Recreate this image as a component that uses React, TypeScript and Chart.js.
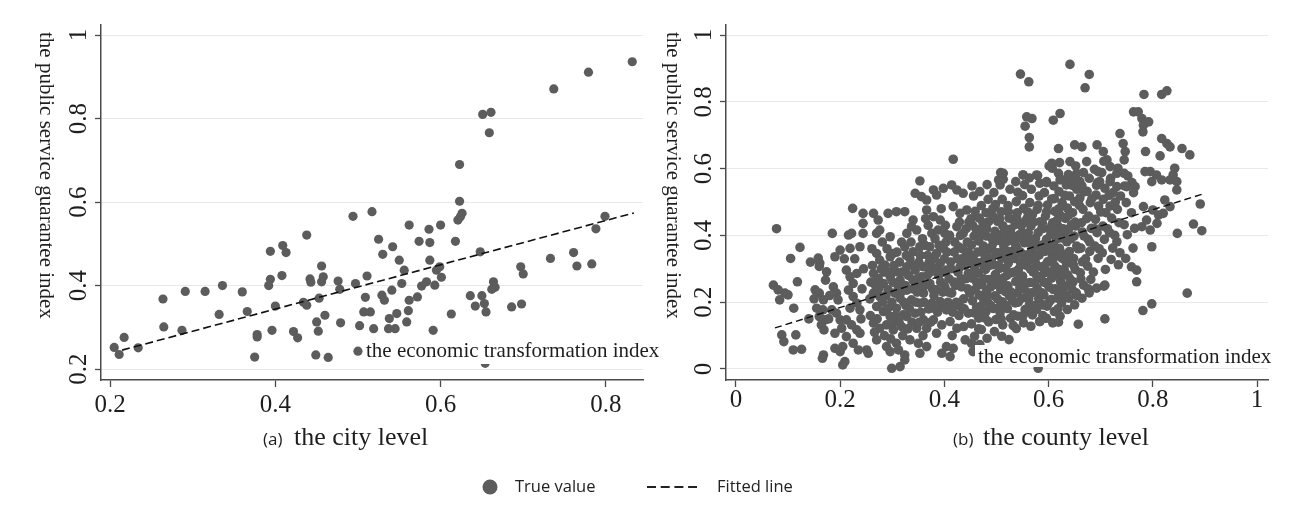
import React, { useEffect, useRef } from 'react';
import { Chart, registerables } from 'chart.js';

Chart.register(...registerables);

// ---------- data ----------
const cityPoints: [number, number][] = [
  [0.205, 0.252], [0.211, 0.235], [0.217, 0.276], [0.234, 0.251], [0.264, 0.368], [0.265, 0.301],
  [0.287, 0.293], [0.291, 0.386], [0.315, 0.386], [0.332, 0.331], [0.336, 0.4], [0.36, 0.385],
  [0.366, 0.338], [0.375, 0.229], [0.378, 0.283], [0.378, 0.277], [0.392, 0.4], [0.394, 0.415],
  [0.394, 0.482], [0.396, 0.293], [0.4, 0.351], [0.409, 0.496], [0.413, 0.479], [0.408, 0.424],
  [0.422, 0.29], [0.427, 0.275], [0.434, 0.36], [0.438, 0.521], [0.442, 0.416], [0.443, 0.408],
  [0.438, 0.353], [0.449, 0.234], [0.45, 0.313], [0.452, 0.291], [0.453, 0.37], [0.456, 0.447],
  [0.458, 0.421], [0.456, 0.409], [0.46, 0.329], [0.464, 0.228], [0.476, 0.411], [0.478, 0.391],
  [0.479, 0.311], [0.494, 0.566], [0.497, 0.405], [0.5, 0.243], [0.502, 0.304], [0.507, 0.337],
  [0.509, 0.372], [0.511, 0.423], [0.515, 0.337], [0.517, 0.577], [0.519, 0.297], [0.525, 0.511],
  [0.529, 0.377], [0.53, 0.475], [0.532, 0.365], [0.537, 0.297], [0.538, 0.321], [0.541, 0.389],
  [0.542, 0.493], [0.545, 0.297], [0.547, 0.333], [0.55, 0.461], [0.553, 0.405], [0.556, 0.437],
  [0.559, 0.313], [0.561, 0.34], [0.562, 0.545], [0.562, 0.365], [0.572, 0.373], [0.574, 0.506],
  [0.577, 0.399], [0.583, 0.409], [0.586, 0.535], [0.587, 0.503], [0.587, 0.461], [0.591, 0.293],
  [0.593, 0.401], [0.595, 0.437], [0.599, 0.445], [0.6, 0.545], [0.601, 0.42], [0.613, 0.332],
  [0.618, 0.506], [0.621, 0.557], [0.623, 0.69], [0.623, 0.602], [0.624, 0.565], [0.626, 0.573],
  [0.636, 0.376], [0.642, 0.351], [0.648, 0.481], [0.65, 0.376], [0.651, 0.81], [0.653, 0.357],
  [0.654, 0.214], [0.655, 0.337], [0.659, 0.766], [0.661, 0.815], [0.662, 0.391], [0.664, 0.409],
  [0.666, 0.396], [0.686, 0.349], [0.697, 0.445], [0.698, 0.356], [0.7, 0.428], [0.733, 0.465],
  [0.737, 0.871], [0.761, 0.479], [0.765, 0.447], [0.779, 0.911], [0.783, 0.452], [0.788, 0.536],
  [0.799, 0.566], [0.832, 0.936],
];
const cityFit: [number, number][] = [[0.2145, 0.2455], [0.834, 0.574]];

const countyLeft: [number, number][] = [
  [0.078, 0.42], [0.072, 0.251], [0.081, 0.237], [0.094, 0.227], [0.1, 0.222], [0.084, 0.207],
  [0.088, 0.102], [0.092, 0.082], [0.105, 0.331], [0.123, 0.364], [0.118, 0.261], [0.111, 0.182],
  [0.115, 0.102], [0.11, 0.057], [0.126, 0.059], [0.143, 0.32], [0.158, 0.332], [0.161, 0.317],
  [0.16, 0.307], [0.152, 0.237], [0.16, 0.227], [0.168, 0.207], [0.167, 0.177], [0.155, 0.182],
  [0.16, 0.157], [0.171, 0.147], [0.164, 0.132], [0.169, 0.117], [0.168, 0.042], [0.166, 0.032],
  [0.174, 0.291], [0.172, 0.266], [0.185, 0.406], [0.19, 0.336], [0.2, 0.356], [0.187, 0.246],
  [0.193, 0.227], [0.196, 0.207], [0.193, 0.167], [0.184, 0.177], [0.2, 0.147], [0.203, 0.122],
  [0.19, 0.107], [0.19, 0.062], [0.2, 0.052], [0.205, 0.067], [0.209, 0.022], [0.205, 0.012],
  [0.216, 0.401], [0.222, 0.406], [0.224, 0.481], [0.219, 0.361], [0.238, 0.366], [0.244, 0.406],
  [0.244, 0.436], [0.244, 0.466], [0.212, 0.296], [0.219, 0.276], [0.232, 0.286], [0.225, 0.256],
  [0.216, 0.236], [0.225, 0.217], [0.232, 0.197], [0.219, 0.182], [0.238, 0.177], [0.212, 0.147],
  [0.222, 0.132], [0.232, 0.117], [0.238, 0.107], [0.212, 0.097], [0.225, 0.077], [0.235, 0.057],
  [0.242, 0.24], [0.245, 0.3], [0.24, 0.15], [0.228, 0.33], [0.208, 0.33], [0.18, 0.22],
  [0.178, 0.15], [0.15, 0.21], [0.14, 0.15],
];

const countyMid: [number, number][] = [
  [0.251, 0.057], [0.254, 0.047], [0.264, 0.466], [0.273, 0.446], [0.276, 0.416], [0.27, 0.406],
  [0.292, 0.466], [0.308, 0.471], [0.324, 0.471], [0.296, 0.396], [0.27, 0.346], [0.276, 0.326],
  [0.286, 0.311], [0.296, 0.336], [0.302, 0.346], [0.264, 0.286], [0.273, 0.271], [0.283, 0.256],
  [0.296, 0.276], [0.308, 0.291], [0.315, 0.266], [0.264, 0.227], [0.276, 0.217], [0.292, 0.237],
  [0.305, 0.227], [0.315, 0.212], [0.27, 0.187], [0.283, 0.172], [0.296, 0.157], [0.308, 0.182],
  [0.321, 0.162], [0.264, 0.137], [0.276, 0.122], [0.289, 0.132], [0.302, 0.117], [0.318, 0.127],
  [0.27, 0.087], [0.289, 0.067], [0.296, 0.052], [0.308, 0.077], [0.312, 0.057], [0.299, 0.002],
  [0.315, 0.007], [0.324, 0.027], [0.324, 0.042], [0.328, 0.406], [0.337, 0.426], [0.34, 0.446],
  [0.347, 0.416], [0.324, 0.366], [0.34, 0.351], [0.353, 0.366], [0.328, 0.306], [0.344, 0.296],
  [0.36, 0.306], [0.34, 0.266], [0.356, 0.276], [0.328, 0.236], [0.344, 0.246], [0.36, 0.227],
  [0.337, 0.207], [0.353, 0.197], [0.328, 0.157], [0.344, 0.167], [0.36, 0.147], [0.347, 0.122],
  [0.366, 0.122], [0.334, 0.087], [0.35, 0.077], [0.366, 0.067], [0.353, 0.047], [0.353, 0.563],
  [0.344, 0.526], [0.356, 0.516], [0.366, 0.506], [0.366, 0.476], [0.379, 0.456], [0.392, 0.446],
  [0.376, 0.406], [0.388, 0.416], [0.401, 0.406], [0.372, 0.366], [0.385, 0.346], [0.398, 0.361],
  [0.376, 0.306], [0.392, 0.316], [0.404, 0.296], [0.372, 0.256], [0.385, 0.237], [0.401, 0.246],
  [0.414, 0.227], [0.376, 0.197], [0.392, 0.202], [0.404, 0.177], [0.417, 0.192], [0.379, 0.147],
  [0.395, 0.132], [0.411, 0.142], [0.424, 0.122], [0.385, 0.107], [0.404, 0.067], [0.417, 0.062],
  [0.395, 0.047], [0.411, 0.037], [0.379, 0.536], [0.385, 0.521], [0.398, 0.541], [0.417, 0.628],
  [0.414, 0.551], [0.424, 0.536], [0.436, 0.526], [0.417, 0.486], [0.43, 0.466], [0.443, 0.476],
  [0.424, 0.426], [0.436, 0.406], [0.427, 0.366], [0.443, 0.346], [0.43, 0.306], [0.446, 0.286],
  [0.433, 0.246], [0.449, 0.227], [0.43, 0.187], [0.446, 0.167], [0.437, 0.127], [0.44, 0.087],
  [0.452, 0.077], [0.258, 0.16], [0.262, 0.31], [0.268, 0.25], [0.281, 0.2], [0.284, 0.29],
  [0.29, 0.36], [0.299, 0.2], [0.304, 0.14], [0.311, 0.25], [0.314, 0.32], [0.318, 0.38],
  [0.32, 0.1], [0.326, 0.19], [0.331, 0.28], [0.334, 0.33], [0.338, 0.14], [0.348, 0.23],
  [0.351, 0.32], [0.355, 0.17], [0.358, 0.39], [0.362, 0.25], [0.364, 0.45], [0.368, 0.34],
  [0.37, 0.18], [0.373, 0.29], [0.38, 0.22], [0.382, 0.39], [0.387, 0.17], [0.389, 0.28],
  [0.394, 0.48], [0.397, 0.23], [0.4, 0.33], [0.403, 0.38], [0.407, 0.2], [0.409, 0.27],
  [0.412, 0.32], [0.415, 0.1], [0.419, 0.35], [0.421, 0.25], [0.426, 0.29], [0.428, 0.16],
  [0.431, 0.4], [0.434, 0.33], [0.437, 0.21], [0.441, 0.27], [0.444, 0.38], [0.447, 0.44],
  [0.448, 0.32],
  [0.257, 0.21], [0.259, 0.26], [0.261, 0.36], [0.266, 0.11], [0.271, 0.15], [0.274, 0.24],
  [0.279, 0.3], [0.281, 0.38], [0.285, 0.1], [0.288, 0.22], [0.291, 0.18], [0.294, 0.29],
  [0.297, 0.09], [0.301, 0.26], [0.303, 0.31], [0.306, 0.16], [0.309, 0.35], [0.313, 0.14],
  [0.317, 0.23], [0.319, 0.29], [0.322, 0.2], [0.325, 0.25], [0.327, 0.34], [0.33, 0.12],
  [0.333, 0.18], [0.336, 0.38], [0.339, 0.24], [0.342, 0.31], [0.345, 0.2], [0.349, 0.27],
  [0.352, 0.14], [0.354, 0.34], [0.357, 0.25], [0.359, 0.1], [0.361, 0.2], [0.363, 0.37],
  [0.367, 0.28], [0.369, 0.43], [0.371, 0.32], [0.374, 0.14], [0.377, 0.24], [0.381, 0.33],
  [0.383, 0.18], [0.386, 0.3], [0.39, 0.37], [0.393, 0.26], [0.396, 0.19], [0.399, 0.29],
  [0.402, 0.43], [0.405, 0.35], [0.408, 0.23], [0.41, 0.4], [0.413, 0.3], [0.416, 0.17],
  [0.418, 0.26], [0.42, 0.38], [0.423, 0.2], [0.425, 0.33], [0.429, 0.44], [0.432, 0.27],
  [0.435, 0.36], [0.438, 0.18], [0.44, 0.31], [0.442, 0.42], [0.445, 0.24], [0.446, 0.35],
  [0.449, 0.28], [0.451, 0.45],
];

const countyCore: [number, number][] = [
  [0.455, 0.052], [0.458, 0.098], [0.452, 0.135], [0.457, 0.168], [0.454, 0.204], [0.459, 0.238],
  [0.453, 0.272], [0.458, 0.301], [0.455, 0.334], [0.452, 0.371], [0.457, 0.398], [0.454, 0.431],
  [0.459, 0.472], [0.456, 0.518], [0.453, 0.548], [0.468, 0.073], [0.471, 0.118], [0.466, 0.152],
  [0.47, 0.188], [0.467, 0.221], [0.472, 0.252], [0.465, 0.287], [0.469, 0.318], [0.473, 0.349],
  [0.466, 0.383], [0.47, 0.417], [0.467, 0.452], [0.471, 0.489], [0.468, 0.531], [0.482, 0.092],
  [0.485, 0.141], [0.48, 0.172], [0.484, 0.199], [0.481, 0.232], [0.486, 0.268], [0.479, 0.298],
  [0.483, 0.337], [0.487, 0.362], [0.481, 0.398], [0.485, 0.441], [0.48, 0.468], [0.484, 0.508],
  [0.482, 0.552], [0.496, 0.112], [0.499, 0.148], [0.494, 0.181], [0.497, 0.219], [0.493, 0.251],
  [0.498, 0.283], [0.495, 0.312], [0.499, 0.347], [0.494, 0.378], [0.497, 0.412], [0.493, 0.458],
  [0.498, 0.492], [0.495, 0.528], [0.51, 0.098], [0.512, 0.132], [0.507, 0.168], [0.511, 0.201],
  [0.508, 0.238], [0.513, 0.272], [0.506, 0.301], [0.51, 0.331], [0.514, 0.368], [0.508, 0.402],
  [0.512, 0.429], [0.509, 0.471], [0.511, 0.508], [0.513, 0.568], [0.508, 0.588], [0.524, 0.088],
  [0.527, 0.152], [0.521, 0.181], [0.525, 0.218], [0.522, 0.249], [0.528, 0.288], [0.523, 0.318],
  [0.526, 0.352], [0.521, 0.382], [0.527, 0.418], [0.524, 0.452], [0.522, 0.489], [0.526, 0.538],
  [0.538, 0.121], [0.541, 0.158], [0.536, 0.198], [0.54, 0.228], [0.537, 0.262], [0.542, 0.298],
  [0.535, 0.331], [0.539, 0.362], [0.543, 0.401], [0.536, 0.432], [0.54, 0.468], [0.538, 0.501],
  [0.541, 0.529], [0.537, 0.561], [0.552, 0.138], [0.555, 0.178], [0.549, 0.212], [0.553, 0.241],
  [0.55, 0.278], [0.556, 0.311], [0.551, 0.342], [0.554, 0.378], [0.549, 0.409], [0.555, 0.442],
  [0.552, 0.481], [0.55, 0.519], [0.554, 0.552], [0.551, 0.581], [0.566, 0.128], [0.569, 0.162],
  [0.563, 0.191], [0.567, 0.228], [0.564, 0.259], [0.57, 0.291], [0.565, 0.328], [0.568, 0.358],
  [0.562, 0.391], [0.566, 0.428], [0.569, 0.462], [0.564, 0.498], [0.567, 0.538], [0.563, 0.572],
  [0.58, 0.002], [0.583, 0.142], [0.577, 0.178], [0.581, 0.211], [0.578, 0.242], [0.584, 0.272],
  [0.579, 0.308], [0.582, 0.341], [0.576, 0.372], [0.58, 0.408], [0.584, 0.441], [0.578, 0.478],
  [0.582, 0.518], [0.579, 0.579], [0.594, 0.152], [0.597, 0.188], [0.591, 0.222], [0.595, 0.258],
  [0.592, 0.288], [0.598, 0.321], [0.593, 0.352], [0.596, 0.388], [0.59, 0.421], [0.594, 0.458],
  [0.598, 0.491], [0.592, 0.528], [0.596, 0.558], [0.608, 0.138], [0.611, 0.172], [0.605, 0.208],
  [0.609, 0.238], [0.606, 0.272], [0.612, 0.308], [0.607, 0.338], [0.61, 0.371], [0.604, 0.402],
  [0.608, 0.438], [0.612, 0.472], [0.606, 0.509], [0.61, 0.548], [0.607, 0.601], [0.622, 0.158],
  [0.625, 0.198], [0.619, 0.228], [0.623, 0.262], [0.62, 0.298], [0.626, 0.331], [0.621, 0.361],
  [0.624, 0.392], [0.618, 0.428], [0.622, 0.461], [0.626, 0.498], [0.62, 0.531], [0.624, 0.568],
  [0.621, 0.618], [0.636, 0.178], [0.639, 0.212], [0.633, 0.248], [0.637, 0.281], [0.634, 0.318],
  [0.64, 0.352], [0.635, 0.381], [0.638, 0.418], [0.632, 0.451], [0.636, 0.482], [0.64, 0.518],
  [0.634, 0.551], [0.638, 0.582], [0.65, 0.192], [0.653, 0.228], [0.647, 0.261], [0.651, 0.298],
  [0.648, 0.331], [0.654, 0.368], [0.649, 0.398], [0.652, 0.428], [0.646, 0.468], [0.65, 0.501],
  [0.654, 0.538], [0.648, 0.571], [0.652, 0.608],
  [0.462, 0.185], [0.476, 0.205], [0.489, 0.246], [0.503, 0.262], [0.517, 0.232], [0.531, 0.205],
  [0.545, 0.245], [0.559, 0.228], [0.573, 0.258], [0.587, 0.228], [0.601, 0.245], [0.615, 0.282],
  [0.629, 0.245], [0.463, 0.318], [0.477, 0.302], [0.49, 0.328], [0.504, 0.348], [0.518, 0.302],
  [0.532, 0.345], [0.546, 0.318], [0.56, 0.342], [0.574, 0.322], [0.588, 0.305], [0.602, 0.358],
  [0.616, 0.345], [0.63, 0.298], [0.461, 0.418], [0.475, 0.368], [0.491, 0.392], [0.505, 0.385],
  [0.519, 0.401], [0.533, 0.382], [0.547, 0.392], [0.561, 0.408], [0.575, 0.391], [0.589, 0.372],
  [0.603, 0.418], [0.617, 0.408], [0.631, 0.398], [0.474, 0.438], [0.502, 0.442], [0.531, 0.448],
  [0.559, 0.452], [0.588, 0.438], [0.616, 0.445], [0.644, 0.432], [0.478, 0.152], [0.505, 0.185],
  [0.533, 0.162], [0.561, 0.172], [0.589, 0.192], [0.617, 0.212], [0.645, 0.238],
  [0.462, 0.26], [0.464, 0.35], [0.466, 0.12], [0.469, 0.4], [0.473, 0.17], [0.476, 0.27],
  [0.478, 0.33], [0.481, 0.42], [0.483, 0.22], [0.487, 0.31], [0.489, 0.19], [0.491, 0.36],
  [0.493, 0.48], [0.496, 0.26], [0.5, 0.4], [0.502, 0.21], [0.504, 0.31], [0.506, 0.45],
  [0.509, 0.15], [0.511, 0.25], [0.514, 0.35], [0.516, 0.42], [0.518, 0.19], [0.52, 0.28],
  [0.523, 0.47], [0.525, 0.33], [0.528, 0.23], [0.53, 0.4], [0.532, 0.13], [0.534, 0.29],
  [0.537, 0.37], [0.539, 0.45], [0.542, 0.2], [0.544, 0.27], [0.546, 0.35], [0.548, 0.43],
  [0.551, 0.16], [0.553, 0.26], [0.556, 0.32], [0.558, 0.39], [0.56, 0.47], [0.562, 0.21],
  [0.565, 0.3], [0.568, 0.37], [0.571, 0.44], [0.573, 0.19], [0.575, 0.34], [0.577, 0.28],
  [0.58, 0.49], [0.582, 0.23], [0.585, 0.36], [0.587, 0.42], [0.589, 0.16], [0.591, 0.26],
  [0.593, 0.31], [0.596, 0.47], [0.599, 0.37], [0.601, 0.2], [0.603, 0.29], [0.606, 0.43],
  [0.609, 0.33], [0.611, 0.51], [0.613, 0.24], [0.615, 0.39], [0.618, 0.18], [0.62, 0.48],
  [0.623, 0.35], [0.626, 0.28], [0.628, 0.42], [0.631, 0.52], [0.633, 0.22], [0.635, 0.34],
  [0.638, 0.46], [0.641, 0.27], [0.643, 0.39], [0.645, 0.55], [0.648, 0.31], [0.651, 0.44],
  [0.654, 0.22], [0.657, 0.36], [0.659, 0.49],
];

const countyHigh: [number, number][] = [
  [0.664, 0.212], [0.667, 0.251], [0.661, 0.288], [0.665, 0.321], [0.662, 0.362], [0.668, 0.398],
  [0.663, 0.438], [0.666, 0.478], [0.66, 0.512], [0.664, 0.548], [0.667, 0.588], [0.678, 0.228],
  [0.681, 0.268], [0.675, 0.308], [0.679, 0.352], [0.676, 0.388], [0.682, 0.421], [0.677, 0.458],
  [0.68, 0.498], [0.674, 0.532], [0.678, 0.571], [0.692, 0.242], [0.695, 0.331], [0.689, 0.368],
  [0.693, 0.408], [0.69, 0.448], [0.696, 0.488], [0.691, 0.521], [0.694, 0.558], [0.688, 0.598],
  [0.706, 0.248], [0.709, 0.298], [0.703, 0.348], [0.707, 0.388], [0.704, 0.428], [0.71, 0.468],
  [0.705, 0.508], [0.708, 0.541], [0.702, 0.588], [0.706, 0.622], [0.72, 0.328], [0.723, 0.362],
  [0.717, 0.408], [0.721, 0.452], [0.718, 0.488], [0.724, 0.528], [0.719, 0.571], [0.734, 0.312],
  [0.737, 0.348], [0.731, 0.381], [0.735, 0.438], [0.732, 0.478], [0.738, 0.518], [0.733, 0.601],
  [0.748, 0.331], [0.751, 0.402], [0.745, 0.432], [0.749, 0.498], [0.746, 0.548], [0.752, 0.578],
  [0.762, 0.362], [0.765, 0.421], [0.759, 0.468], [0.763, 0.528], [0.76, 0.558],
  [0.662, 0.27], [0.665, 0.41], [0.668, 0.53], [0.671, 0.33], [0.673, 0.45], [0.676, 0.24],
  [0.679, 0.38], [0.683, 0.51], [0.686, 0.29], [0.689, 0.42], [0.692, 0.55], [0.697, 0.36],
  [0.7, 0.47], [0.713, 0.42], [0.716, 0.52], [0.727, 0.4], [0.728, 0.5],
];

const countyOuter: [number, number][] = [
  [0.546, 0.883], [0.562, 0.86], [0.641, 0.912], [0.678, 0.882], [0.67, 0.842], [0.783, 0.822],
  [0.817, 0.822], [0.827, 0.833], [0.622, 0.765], [0.609, 0.745], [0.555, 0.727], [0.568, 0.75],
  [0.558, 0.755], [0.563, 0.693], [0.563, 0.665], [0.763, 0.77], [0.772, 0.77], [0.779, 0.75],
  [0.782, 0.73], [0.792, 0.74], [0.781, 0.71], [0.737, 0.705], [0.693, 0.671], [0.705, 0.651],
  [0.743, 0.675], [0.747, 0.651], [0.745, 0.626], [0.65, 0.671], [0.664, 0.665], [0.619, 0.66],
  [0.817, 0.69], [0.827, 0.675], [0.833, 0.665], [0.856, 0.66], [0.871, 0.641], [0.786, 0.651],
  [0.814, 0.638], [0.641, 0.621], [0.673, 0.621], [0.606, 0.616], [0.601, 0.608], [0.712, 0.626],
  [0.718, 0.606], [0.731, 0.586], [0.745, 0.586], [0.842, 0.601], [0.839, 0.581], [0.846, 0.561],
  [0.833, 0.566], [0.795, 0.591], [0.785, 0.591], [0.807, 0.581], [0.817, 0.566], [0.798, 0.561],
  [0.513, 0.586], [0.504, 0.566], [0.507, 0.551], [0.551, 0.581], [0.577, 0.581], [0.583, 0.556],
  [0.596, 0.561], [0.619, 0.586], [0.622, 0.566], [0.638, 0.561], [0.654, 0.586], [0.66, 0.561],
  [0.695, 0.591], [0.698, 0.561], [0.718, 0.561], [0.731, 0.546], [0.75, 0.546], [0.766, 0.546],
  [0.891, 0.494], [0.878, 0.434], [0.894, 0.414], [0.847, 0.406], [0.798, 0.366], [0.759, 0.306],
  [0.769, 0.296], [0.769, 0.261], [0.708, 0.251], [0.798, 0.195], [0.781, 0.175], [0.866, 0.227],
  [0.708, 0.15], [0.657, 0.134], [0.619, 0.14], [0.596, 0.152], [0.583, 0.142], [0.782, 0.486],
  [0.8, 0.476], [0.811, 0.461], [0.788, 0.446], [0.779, 0.426], [0.795, 0.416], [0.808, 0.436],
  [0.823, 0.506], [0.833, 0.486], [0.82, 0.466], [0.846, 0.536],
];
const countyFit: [number, number][] = [[0.075, 0.123], [0.894, 0.523]];

// axis ranges and tick step
const cityXRange = [0.189, 0.845];
const cityYRange = [0.174, 1.024];
const countyXRange = [-0.019, 1.021];
const countyYRange = [-0.033, 1.03];
const tickStep = 0.2;

// texts
const yTitle = 'the public service guarantee index';
const xTitle = 'the economic transformation index';
const captionA = ['(a)', 'the city level'];
const captionB = ['(b)', 'the county level'];
const legendLabels = ['True value', 'Fitted line'];

// ---------- styles ----------
const DOT = '#5c5c5c';
const AXIS = '#4a4a4a';
const GRID = '#e8e8e8';
const TEXT = '#1e1e1e';
const SERIF = '"Liberation Serif", "Times New Roman", serif';
const SANS = '"Open Sans", "Noto Sans", sans-serif';

const toXY = (arr: [number, number][]) => arr.map(([x, y]) => ({ x, y }));
const fmt = (v: any) => String(parseFloat(Number(v).toFixed(2)));

type Deco = {
  yTitleX: number;
  xTitleX: number;
  xTitleBase: number;
  boxTop: number;
  boxBottom: number;
  capX1: number;
  capX2: number;
  caption: string[];
  legend: boolean;
};

function decoPlugin(d: Deco) {
  return {
    id: 'deco',
    afterDatasetsDraw(chart: any) {
      const ctx = chart.ctx as CanvasRenderingContext2D;
      ctx.save();
      // inner x-axis title with white backing
      ctx.font = `21px ${SERIF}`;
      const w = ctx.measureText(xTitle).width;
      ctx.fillStyle = '#ffffff';
      ctx.fillRect(d.xTitleX - 3, d.boxTop, w + 5, d.boxBottom - d.boxTop);
      ctx.fillStyle = TEXT;
      ctx.textAlign = 'left';
      ctx.textBaseline = 'alphabetic';
      ctx.fillText(xTitle, d.xTitleX, d.xTitleBase);

      // y-axis title, reading top to bottom
      ctx.save();
      ctx.translate(d.yTitleX, 32);
      ctx.rotate(Math.PI / 2);
      ctx.font = `21px ${SERIF}`;
      ctx.textBaseline = 'middle';
      ctx.textAlign = 'left';
      ctx.fillText(yTitle, 0, 0);
      ctx.restore();

      // caption
      ctx.font = `17px ${SANS}`;
      ctx.fillText(d.caption[0], d.capX1, 445);
      ctx.font = `26px ${SERIF}`;
      ctx.fillText(d.caption[1], d.capX2, 445);

      if (d.legend) {
        const cy = 487;
        ctx.fillStyle = DOT;
        ctx.beginPath();
        ctx.arc(490, cy, 7.5, 0, Math.PI * 2);
        ctx.fill();
        ctx.fillStyle = '#222';
        ctx.font = `16.5px ${SANS}`;
        ctx.textBaseline = 'middle';
        ctx.fillText(legendLabels[0], 515, cy);
        ctx.strokeStyle = '#222';
        ctx.lineWidth = 2;
        ctx.setLineDash([9, 4.7]);
        ctx.beginPath();
        ctx.moveTo(647, cy);
        ctx.lineTo(697, cy);
        ctx.stroke();
        ctx.setLineDash([]);
        ctx.fillText(legendLabels[1], 717, cy);
      }
      ctx.restore();
    },
  };
}

function makeConfig(opts: {
  points: [number, number][];
  fit: [number, number][];
  xr: number[];
  yr: number[];
  yWidth: number;
  pad: { left: number; top: number; right: number; bottom: number };
  radius: number;
  dash: number[];
  fitWidth: number;
  xPad: number;
  deco: Deco;
}): any {
  const tickFont = { family: SERIF, size: 25 };
  return {
    type: 'scatter',
    data: {
      datasets: [
        {
          label: legendLabels[1],
          data: toXY(opts.fit),
          showLine: true,
          borderColor: '#111',
          borderWidth: opts.fitWidth,
          borderDash: opts.dash,
          pointRadius: 0,
          order: 0,
        },
        {
          label: legendLabels[0],
          data: toXY(opts.points),
          backgroundColor: DOT,
          borderWidth: 0,
          pointRadius: opts.radius,
          order: 1,
        },
      ],
    },
    options: {
      animation: false,
      responsive: false,
      events: [],
      layout: { padding: opts.pad },
      plugins: { legend: { display: false }, tooltip: { enabled: false } },
      scales: {
        x: {
          type: 'linear',
          min: opts.xr[0],
          max: opts.xr[1],
          afterFit: (s: any) => {
            s.height = 80;
          },
          ticks: {
            stepSize: tickStep,
            includeBounds: false,
            maxRotation: 0,
            padding: opts.xPad,
            color: TEXT,
            font: tickFont,
            callback: fmt,
          },
          grid: {
            drawOnChartArea: false,
            drawTicks: true,
            tickLength: 7,
            tickColor: AXIS,
            tickWidth: 1.3,
          },
          border: { color: AXIS, width: 1.5 },
        },
        y: {
          type: 'linear',
          min: opts.yr[0],
          max: opts.yr[1],
          afterFit: (s: any) => {
            s.width = opts.yWidth;
          },
          ticks: {
            stepSize: tickStep,
            includeBounds: false,
            minRotation: 90,
            maxRotation: 90,
            crossAlign: 'center',
            padding: 0,
            color: TEXT,
            font: tickFont,
            callback: fmt,
          },
          grid: {
            color: GRID,
            lineWidth: 1,
            drawTicks: true,
            tickLength: 6,
            tickColor: AXIS,
            tickWidth: 1.3,
          },
          border: { color: AXIS, width: 1.5 },
        },
      },
    },
    plugins: [decoPlugin(opts.deco)],
  };
}

export default function App() {
  const leftRef = useRef<HTMLCanvasElement>(null);
  const rightRef = useRef<HTMLCanvasElement>(null);

  useEffect(() => {
    const left = new Chart(
      leftRef.current as HTMLCanvasElement,
      makeConfig({
        points: cityPoints,
        fit: cityFit,
        xr: cityXRange,
        yr: cityYRange,
        yWidth: 101,
        pad: { left: 0, top: 25, right: 659, bottom: 56 },
        radius: 4.6,
        dash: [8, 4],
        fitWidth: 1.6,
        xPad: 3,
        deco: {
          yTitleX: 46,
          xTitleX: 366,
          xTitleBase: 357,
          boxTop: 340,
          boxBottom: 364,
          capX1: 263,
          capX2: 294,
          caption: captionA,
          legend: true,
        },
      })
    );
    const right = new Chart(
      rightRef.current as HTMLCanvasElement,
      makeConfig({
        points: [...countyLeft, ...countyMid, ...countyCore, ...countyHigh, ...countyOuter],
        fit: countyFit,
        xr: countyXRange,
        yr: countyYRange,
        yWidth: 75,
        pad: { left: 0, top: 25, right: 34, bottom: 0 },
        radius: 4.8,
        dash: [7, 4],
        fitWidth: 1.4,
        xPad: -2,
        deco: {
          yTitleX: 22,
          xTitleX: 327,
          xTitleBase: 363,
          boxTop: 345,
          boxBottom: 367,
          capX1: 302,
          capX2: 332,
          caption: captionB,
          legend: false,
        },
      })
    );
    return () => {
      left.destroy();
      right.destroy();
    };
  }, []);

  return (
    <div style={{ position: 'absolute', left: 0, top: 0, width: 1302, height: 516, background: '#ffffff' }}>
      <canvas ref={leftRef} width={1302} height={516} style={{ position: 'absolute', left: 0, top: 0 }} />
      <canvas ref={rightRef} width={651} height={460} style={{ position: 'absolute', left: 651, top: 0 }} />
    </div>
  );
}
